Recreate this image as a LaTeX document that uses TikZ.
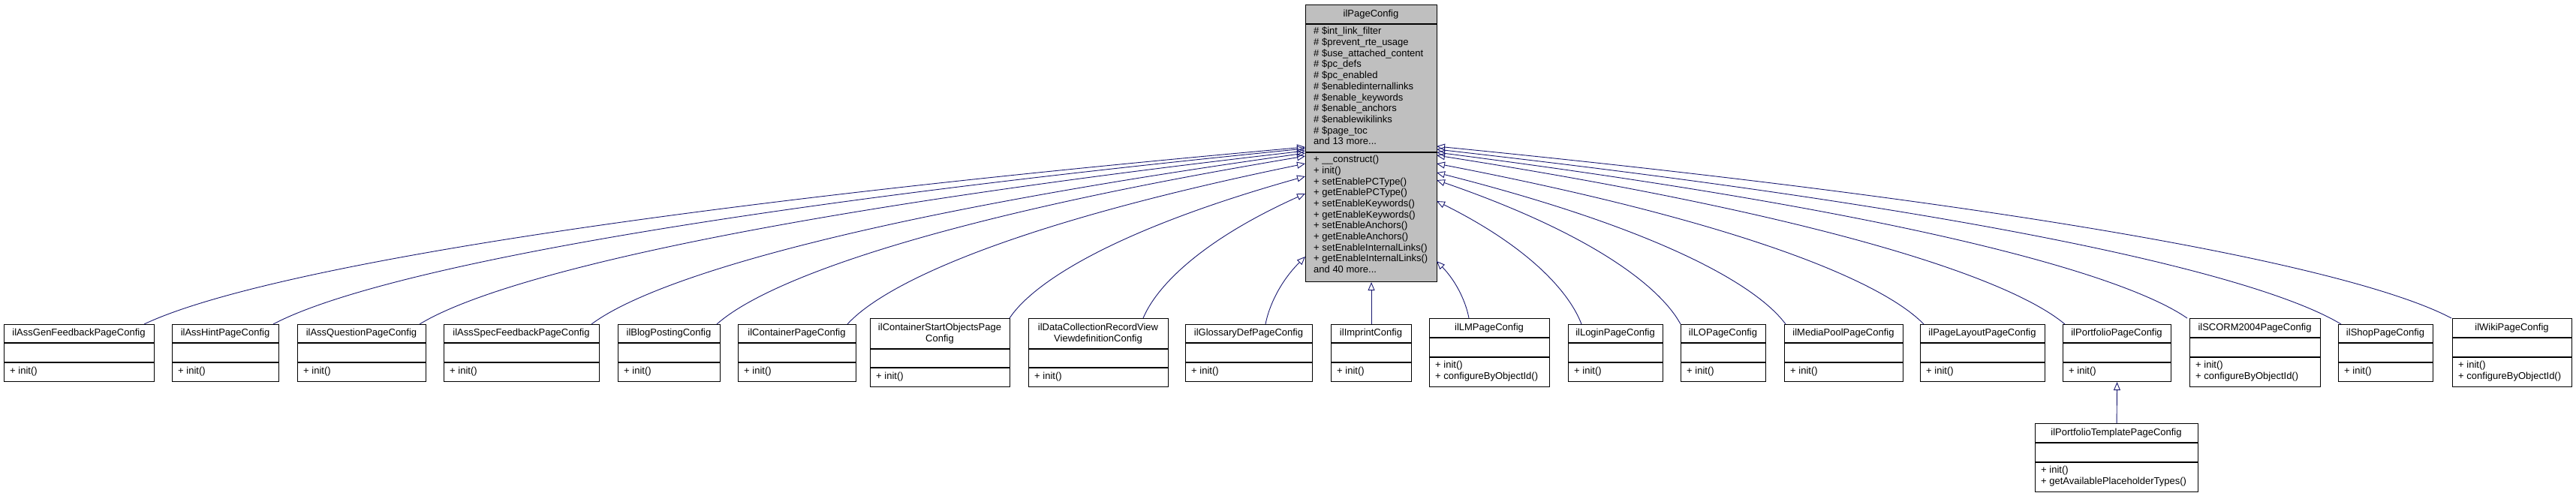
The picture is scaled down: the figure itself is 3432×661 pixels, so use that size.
\documentclass[tikz,border=0pt]{standalone}
\usepackage{fontspec}
\setmainfont{Liberation Sans}
\usetikzlibrary{arrows.meta}
\definecolor{edge}{HTML}{191970}
\definecolor{topfill}{HTML}{BFBFBF}
\tikzset{
  inh/.style={draw=edge, line width=0.9pt, -{Triangle[open,length=11pt,width=9pt]}},
  ttl/.style={font=\fontsize{13}{14.7}\selectfont, align=center, inner sep=0},
  mem/.style={font=\fontsize{13}{14.7}\selectfont, align=left, inner sep=0, anchor=north west},
}
% #1 name #2 x1 #3 y1 #4 x2 #5 y2 #6 header bottom #7 attr bottom #8 title #9 fill
\newcommand\ubox[9]{%
  \node[draw=black, line width=1.1pt, fill=#9, inner sep=0, anchor=north west,
        minimum width={(#4-#2)*1pt}, minimum height={(#5-#3)*1pt}] (#1) at (#2,#3) {};
  \draw[line width=1.1pt] (#2,#6) -- (#4,#6);
  \draw[line width=1.1pt] (#2,#7) -- (#4,#7);
  \node[ttl] (#1-t) at ({(#2+#4)/2},{(#3+#6)/2}) {#8};
}
\begin{document}
\begin{tikzpicture}[x=1pt,y=-1pt]
\useasboundingbox (0,0) rectangle (3432,661);
% parent
\ubox{pc}{1739}{6}{1914}{375}{32}{203}{ilPageConfig}{topfill}
\node[mem] (pc-a) at (1750,36) {\# \$int\_link\_filter\\\# \$prevent\_rte\_usage\\\# \$use\_attached\_content\\\# \$pc\_defs\\\# \$pc\_enabled\\\# \$enabledinternallinks\\\# \$enable\_keywords\\\# \$enable\_anchors\\\# \$enablewikilinks\\\# \$page\_toc\\and 13 more...};
\node[mem] (pc-m) at (1750,207) {+ \_\_construct()\\+ init()\\+ setEnablePCType()\\+ getEnablePCType()\\+ setEnableKeywords()\\+ getEnableKeywords()\\+ setEnableAnchors()\\+ getEnableAnchors()\\+ setEnableInternalLinks()\\+ getEnableInternalLinks()\\and 40 more...};
% children
\ubox{c1}{5}{432}{205}{508}{457}{483}{ilAssGenFeedbackPageConfig}{white}
\ubox{c2}{229}{432}{371}{508}{457}{483}{ilAssHintPageConfig}{white}
\ubox{c3}{396}{432}{567}{508}{457}{483}{ilAssQuestionPageConfig}{white}
\ubox{c4}{591}{432}{798}{508}{457}{483}{ilAssSpecFeedbackPageConfig}{white}
\ubox{c5}{823}{432}{959}{508}{457}{483}{ilBlogPostingConfig}{white}
\ubox{c6}{983}{432}{1140}{508}{457}{483}{ilContainerPageConfig}{white}
\ubox{c7}{1159}{424}{1345}{515}{465}{490}{ilContainerStartObjectsPage\\Config}{white}
\ubox{c8}{1370}{424}{1556}{515}{465}{490}{ilDataCollectionRecordView\\ViewdefinitionConfig}{white}
\ubox{c9}{1579}{432}{1748}{508}{457}{483}{ilGlossaryDefPageConfig}{white}
\ubox{c10}{1773}{432}{1880}{508}{457}{483}{ilImprintConfig}{white}
\ubox{c11}{1904}{424}{2064}{515}{450}{476}{ilLMPageConfig}{white}
\ubox{c12}{2089}{432}{2215}{508}{457}{483}{ilLoginPageConfig}{white}
\ubox{c13}{2239}{432}{2352}{508}{457}{483}{ilLOPageConfig}{white}
\ubox{c14}{2377}{432}{2535}{508}{457}{483}{ilMediaPoolPageConfig}{white}
\ubox{c15}{2558}{432}{2724}{508}{457}{483}{ilPageLayoutPageConfig}{white}
\ubox{c16}{2748}{432}{2892}{508}{457}{483}{ilPortfolioPageConfig}{white}
\ubox{c17}{2917}{424}{3091}{515}{450}{476}{ilSCORM2004PageConfig}{white}
\ubox{c18}{3115}{432}{3241}{508}{457}{483}{ilShopPageConfig}{white}
\ubox{c19}{3267}{424}{3426}{515}{450}{476}{ilWikiPageConfig}{white}
\ubox{c20}{2711}{564}{2928}{655}{590}{616}{ilPortfolioTemplatePageConfig}{white}
% methods
\foreach \n/\x/\y in {c1/5/483,c2/229/483,c3/396/483,c4/591/483,c5/823/483,c6/983/483,c7/1159/490,c8/1370/490,c9/1579/483,c10/1773/483,c12/2089/483,c13/2239/483,c14/2377/483,c15/2558/483,c16/2748/483,c18/3115/483}
  \node[mem] (\n-m) at (\x+8,\y+6) {+ init()};
\foreach \n/\x in {c11/1904,c17/2917,c19/3267}
  \node[mem] (\n-m) at (\x+8,481) {+ init()\\+ configureByObjectId()};
\node[mem] (c20-m) at (2719,621) {+ init()\\+ getAvailablePlaceholderTypes()};
% connectors
\foreach \i/\cx/\cy/\px/\py in {1/192/432/1739/196,2/364/432/1739/198,3/559/432/1739/201,4/788/432/1739/204,5/955/432/1739/208,6/1129/432/1739/218,7/1345/424/1739/235,8/1523/424/1739/258,9/1686/432/1739/342,
  11/1957/424/1914/348,12/2107/432/1914/268,13/2239/432/1914/240,14/2379/432/1914/230,15/2563/432/1914/218,16/2751/432/1914/207,17/2914/424/1914/203,18/3119/432/1914/199,19/3266/424/1914/195}{
  \pgfmathsetmacro\dx{\px-\cx}
  \pgfmathsetmacro\dy{\py-\cy}
  \coordinate (a\i) at (\cx,\cy);
  \coordinate (p\i) at (\px,\py);
  \draw[inh] (a\i) .. controls ({\cx+0.08*\dx},{\cy+0.25*\dy}) and ({\cx+0.35*\dx},{\cy+0.62*\dy}) .. (p\i);
}
\draw[inh] (c10.north) -- (pc.south);
\draw[inh] (c20.north) -- (c16.south);
\end{tikzpicture}
\end{document}
